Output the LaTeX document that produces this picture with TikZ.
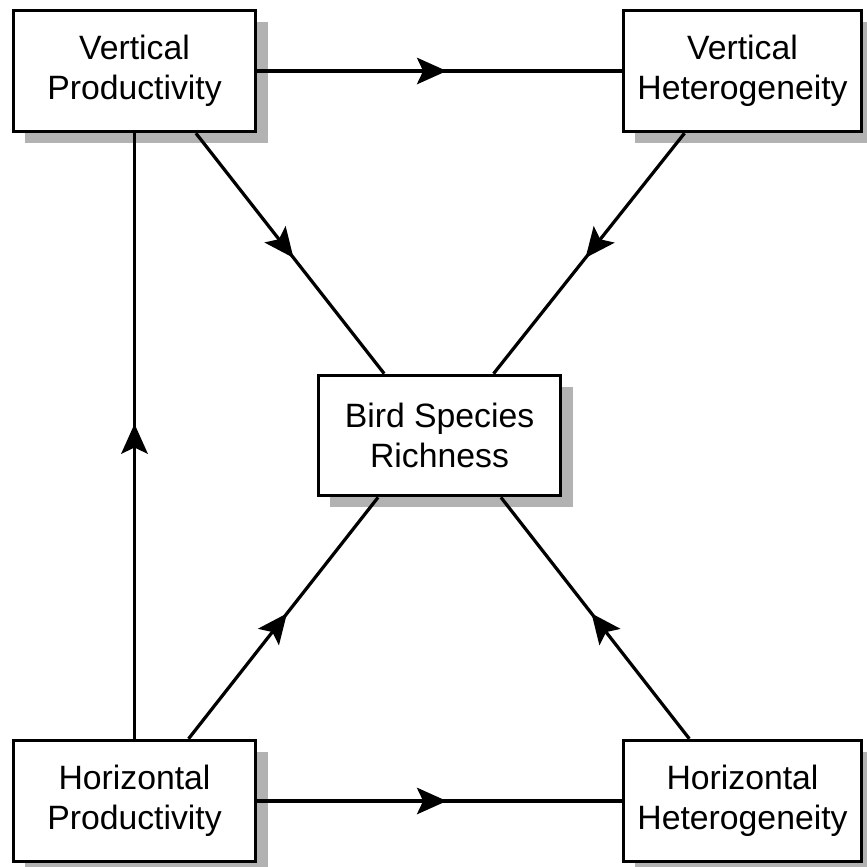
\documentclass[tikz,border=0pt]{standalone}
\usepackage{fontspec}
\setmainfont{Liberation Sans}
\usetikzlibrary{calc,shadows,arrows.meta,decorations.markings}

\begin{document}
\begin{tikzpicture}[x=0.0125cm, y=-0.0125cm,
  box/.style={draw, line width=1.3pt, fill=white, align=center,
    minimum width=3.025cm, minimum height=1.51cm, inner sep=0pt,
    font=\fontsize{12}{14.2}\selectfont,
    drop shadow={shadow xshift=0.15cm, shadow yshift=-0.14cm, fill=black!30, opacity=1}},
  link/.style={line width=1.15pt, postaction={decorate},
    decoration={markings, mark=at position 0.52 with
      {\arrow{Stealth[length=10.6pt, width=9.4pt, inset=2.2pt]}}}}]
  \useasboundingbox (0,0) rectangle (867,867);

  \node[box] (vprod) at (134.5,71) {Vertical\\Productivity};
  \node[box, minimum width=2.975cm] (vhet) at (742.5,71) {Vertical\\Heterogeneity};
  \node[box, minimum height=1.5cm] (rich) at (439.5,435.5) {Bird Species\\Richness};
  \node[box] (hprod) at (134.5,801) {Horizontal\\Productivity};
  \node[box, minimum width=2.975cm] (hhet) at (742.5,801) {Horizontal\\Heterogeneity};

  % horizontal and vertical links
  \draw[link] (vprod) -- (vhet);
  \draw[link] (hprod) -- (hhet);
  \draw[link] (hprod) -- (vprod);

  % diagonal links into the richness box
  \draw[link] ($(vprod.south west)!0.75!(vprod.south east)$) -- ($(rich.north west)!0.275!(rich.north east)$);
  \draw[link] ($(vhet.south west)!0.26!(vhet.south east)$) -- ($(rich.north west)!0.72!(rich.north east)$);
  \draw[link] ($(hprod.north west)!0.72!(hprod.north east)$) -- ($(rich.south west)!0.25!(rich.south east)$);
  \draw[link] ($(hhet.north west)!0.28!(hhet.north east)$) -- ($(rich.south west)!0.75!(rich.south east)$);
\end{tikzpicture}
\end{document}
